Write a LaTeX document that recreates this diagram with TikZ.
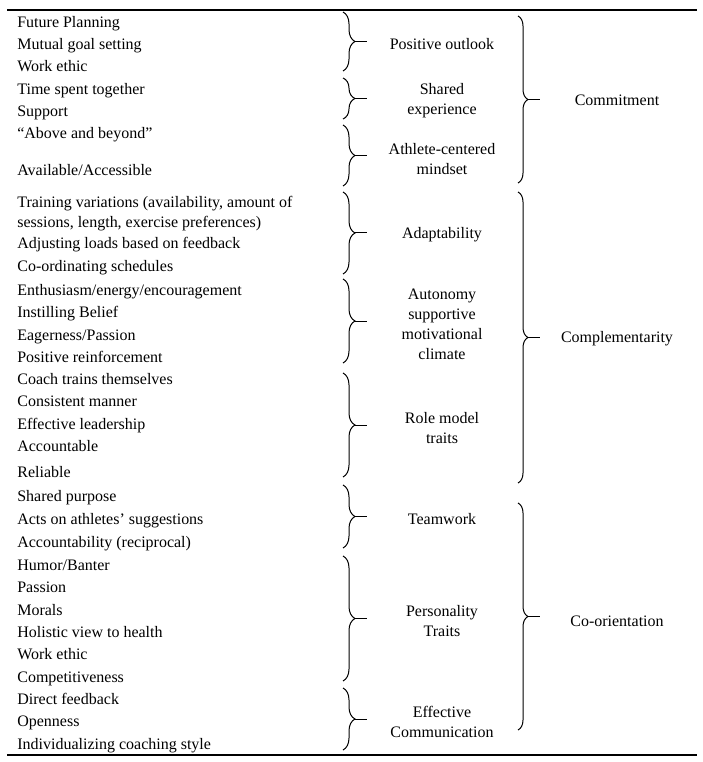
\documentclass[tikz,border=0pt]{standalone}
\usepackage{fontspec}
\setmainfont{Liberation Serif}
\usetikzlibrary{decorations.pathreplacing}

\begin{document}
\begin{tikzpicture}[x=0.2mm, y=-0.2mm,
    item/.style={anchor=west, inner sep=0pt,
                 font=\fontsize{9.1}{11.4}\selectfont},
    row/.style={item, text height=1.5ex, text depth=.25ex},
    facet/.style={inner sep=0pt, align=center,
                  font=\fontsize{9.1}{11.4}\selectfont},
    theme/.style={inner sep=0pt, font=\fontsize{9.1}{11.4}\selectfont},
    inbrace/.style={decorate, decoration={brace, amplitude=2.4mm},
                    line width=0.2mm},
    outbrace/.style={decorate, decoration={brace, amplitude=2mm},
                     line width=0.2mm},
    tick/.style={line width=0.2mm},
    rule/.style={line width=0.35mm},
]
\useasboundingbox (0,0) rectangle (703,762);

\coordinate (tl) at (7,10);  \coordinate (tr) at (697,10);
\coordinate (bl) at (7,755); \coordinate (br) at (697,755);
\draw[rule] (tl) -- (tr);
\draw[rule] (bl) -- (br);

\node[row] (fp)  at (17,22)  {Future Planning};
\node[row] (mg)  at (17,44)  {Mutual goal setting};
\node[row] (we1) at (17,66)  {Work ethic};
\node[row] (ts)  at (17,89)  {Time spent together};
\node[row] (su)  at (17,111) {Support};
\node[row] (ab)  at (17,133) {“Above and beyond”};
\node[row] (aa)  at (17,170) {Available/Accessible};
\node[item, align=left] (tv) at (17,214)
    {Training variations (availability, amount of\\
     sessions, length, exercise preferences)};
\node[row] (al)  at (17,243) {Adjusting loads based on feedback};
\node[row] (cs)  at (17,266) {Co-ordinating schedules};
\node[row] (en)  at (17,290) {Enthusiasm/energy/encouragement};
\node[row] (ib)  at (17,312) {Instilling Belief};
\node[row] (ep)  at (17,335) {Eagerness/Passion};
\node[row] (pr)  at (17,357) {Positive reinforcement};
\node[row] (ct)  at (17,379) {Coach trains themselves};
\node[row] (cm)  at (17,401) {Consistent manner};
\node[row] (el)  at (17,424) {Effective leadership};
\node[row] (ac)  at (17,446) {Accountable};
\node[row] (re)  at (17,472) {Reliable};
\node[row] (sp)  at (17,496) {Shared purpose};
\node[row] (as)  at (17,519) {Acts on athletes’ suggestions};
\node[row] (ar)  at (17,542) {Accountability (reciprocal)};
\node[row] (hb)  at (17,565) {Humor/Banter};
\node[row] (pa)  at (17,587) {Passion};
\node[row] (mo)  at (17,610) {Morals};
\node[row] (hv)  at (17,632) {Holistic view to health};
\node[row] (we2) at (17,654) {Work ethic};
\node[row] (co)  at (17,677) {Competitiveness};
\node[row] (df)  at (17,699) {Direct feedback};
\node[row] (op)  at (17,721) {Openness};
\node[row] (ic)  at (17,744) {Individualizing coaching style};

\node[facet] (po)  at (442,44)  {Positive outlook};
\node[facet] (se)  at (442,101) {Shared\\experience};
\node[facet] (acm) at (442,159) {Athlete-centered\\mindset};
\node[facet] (ad)  at (442,235) {Adaptability};
\node[facet] (au)  at (442,324)
    {Autonomy\\supportive\\motivational\\climate};
\node[facet] (rm)  at (442,428) {Role model\\traits};
\node[facet] (tw)  at (442,519) {Teamwork};
\node[facet] (pt)  at (442,621) {Personality\\Traits};
\node[facet] (ec)  at (442,722) {Effective\\Communication};

\node[theme] (cmt) at (617,100) {Commitment};
\node[theme] (cpl) at (617,339) {Complementarity};
\node[theme] (cor) at (617,621) {Co-orientation};

\coordinate (po-t)  at (343,12);  \coordinate (po-b)  at (343,71);
\coordinate (se-t)  at (343,78);  \coordinate (se-b)  at (343,119);
\coordinate (acm-t) at (343,125); \coordinate (acm-b) at (343,186);
\coordinate (ad-t)  at (343,192); \coordinate (ad-b)  at (343,274);
\coordinate (au-t)  at (343,279); \coordinate (au-b)  at (343,363);
\coordinate (rm-t)  at (343,373); \coordinate (rm-b)  at (343,477);
\coordinate (tw-t)  at (343,485); \coordinate (tw-b)  at (343,548);
\coordinate (pt-t)  at (343,556); \coordinate (pt-b)  at (343,681);
\coordinate (ec-t)  at (343,688); \coordinate (ec-b)  at (343,750);

\draw[inbrace] (po-t)  -- coordinate[midway] (po-m)  (po-b);
\draw[inbrace] (se-t)  -- coordinate[midway] (se-m)  (se-b);
\draw[inbrace] (acm-t) -- coordinate[midway] (acm-m) (acm-b);
\draw[inbrace] (ad-t)  -- coordinate[midway] (ad-m)  (ad-b);
\draw[inbrace] (au-t)  -- coordinate[midway] (au-m)  (au-b);
\draw[inbrace] (rm-t)  -- coordinate[midway] (rm-m)  (rm-b);
\draw[inbrace] (tw-t)  -- coordinate[midway] (tw-m)  (tw-b);
\draw[inbrace] (pt-t)  -- coordinate[midway] (pt-m)  (pt-b);
\draw[inbrace] (ec-t)  -- coordinate[midway] (ec-m)  (ec-b);

\draw[tick] ([xshift=2.4mm]po-m)  -- ++(12,0);
\draw[tick] ([xshift=2.4mm]se-m)  -- ++(12,0);
\draw[tick] ([xshift=2.4mm]acm-m) -- ++(12,0);
\draw[tick] ([xshift=2.4mm]ad-m)  -- ++(12,0);
\draw[tick] ([xshift=2.4mm]au-m)  -- ++(12,0);
\draw[tick] ([xshift=2.4mm]rm-m)  -- ++(12,0);
\draw[tick] ([xshift=2.4mm]tw-m)  -- ++(12,0);
\draw[tick] ([xshift=2.4mm]pt-m)  -- ++(12,0);
\draw[tick] ([xshift=2.4mm]ec-m)  -- ++(12,0);

\coordinate (cmt-t) at (518,16);  \coordinate (cmt-b) at (518,183);
\coordinate (cpl-t) at (518,192); \coordinate (cpl-b) at (518,483);
\coordinate (cor-t) at (518,503); \coordinate (cor-b) at (518,730);

\draw[outbrace] (cmt-t) -- coordinate[midway] (cmt-m) (cmt-b);
\draw[outbrace] (cpl-t) -- coordinate[midway] (cpl-m) (cpl-b);
\draw[outbrace] (cor-t) -- coordinate[midway] (cor-m) (cor-b);

\draw[tick] ([xshift=2mm]cmt-m) -- ++(12,0);
\draw[tick] ([xshift=2mm]cpl-m) -- ++(12,0);
\draw[tick] ([xshift=2mm]cor-m) -- ++(12,0);
\end{tikzpicture}
\end{document}
